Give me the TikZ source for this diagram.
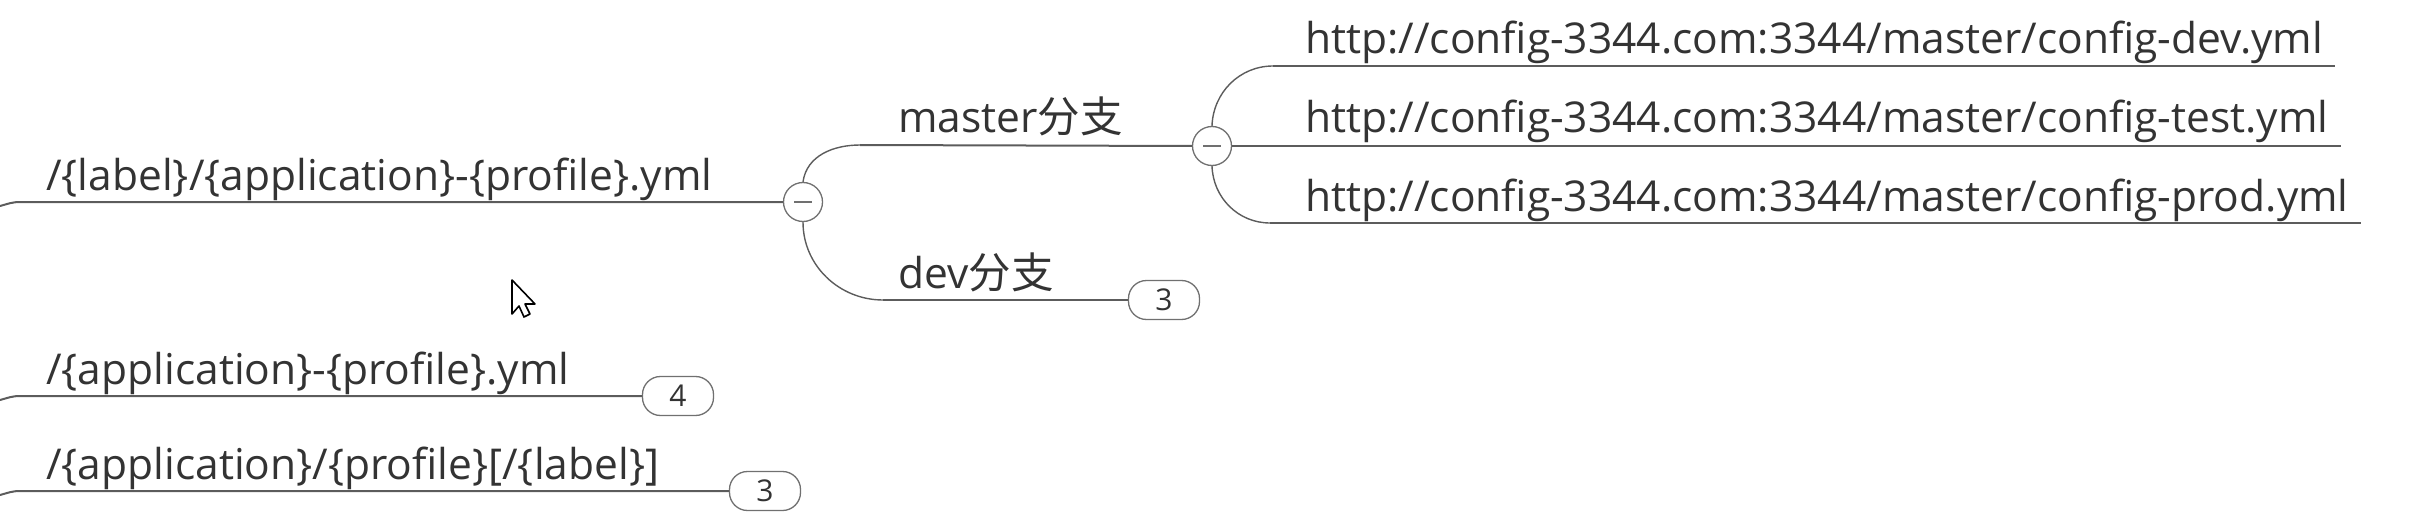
\documentclass[tikz,border=0pt]{standalone}
\usepackage{fontspec}
\setmainfont{Open Sans}
\newfontfamily\cjk{Noto Sans CJK SC}
\usetikzlibrary{positioning}
\definecolor{edge}{HTML}{5C5C5C}
\definecolor{ink}{HTML}{333333}
\definecolor{rim}{HTML}{707070}

\begin{document}
\begin{tikzpicture}[x=1pt, y=-1pt,
    topic/.style={inner sep=0pt, anchor=base west, text=ink,
                  font=\fontsize{42.5}{50}\selectfont},
    fold/.style={circle, draw=rim, fill=white, line width=1.3pt,
                 minimum size=39pt, inner sep=0pt,
                 path picture={\draw[rim, line width=2.5pt]
                   ([xshift=-9pt]path picture bounding box.center) --
                   ([xshift=9pt]path picture bounding box.center);}},
    count/.style={rectangle, rounded corners=18pt, draw=rim, fill=white,
                  line width=1.3pt, minimum width=71pt, minimum height=39pt,
                  inner sep=0pt, text=ink, font=\fontsize{30}{36}\selectfont},
    under/.style={draw=edge, line width=2pt},
    curve/.style={draw=edge, line width=1.4pt},
]
\useasboundingbox (0,0) rectangle (2428,516);

% Left column topics
\node[topic] (lbl)     at (46,190) {/\{label\}/\{application\}-\{profile\}.yml};
\node[topic] (app)     at (46,384) {/\{application\}-\{profile\}.yml};
\node[topic] (appprof) at (46,479) {/\{application\}/\{profile\}[/\{label\}]};

% Branches
\node[topic] (master) at (898,133) {master{\cjk 分支}};
\node[topic] (dev)    at (898,288) {dev{\cjk 分支}};

% Leaf URLs
\node[topic] (cdev)  at (1305,54)  {http://config-3344.com:3344/master/config-dev.yml};
\node[topic] (ctest) at (1305,133) {http://config-3344.com:3344/master/config-test.yml};
\node[topic] (cprod) at (1305,211) {http://config-3344.com:3344/master/config-prod.yml};

% Fold markers and counters
\node[fold]  (foldl)   at (803,202)  {};
\node[fold]  (foldm)   at (1212,146) {};
\node[count] (cntdev)  at (1164,300) {3};
\node[count] (cntapp)  at (678,396)  {4};
\node[count] (cntprof) at (765,491)  {3};

% Bend points
\coordinate (inl)  at (0,206);
\coordinate (inap) at (0,400);
\coordinate (inpr) at (0,495);
\coordinate (tm)   at (860,145);
\coordinate (td)   at (883,300);
\coordinate (tdev) at (1273,66);
\coordinate (tprd) at (1270,223);

\draw[under] (inl)  to[out=15,in=180] (20,202) -- (foldl.west);
\draw[under] (inap) to[out=15,in=180] (20,396) -- (cntapp.west);
\draw[under] (inpr) to[out=15,in=180] (20,491) -- (cntprof.west);

\draw[curve] (foldl.north) to[out=82,in=180] (tm);
\draw[under] (tm) -- (foldm.west);
\draw[curve] (foldl.south) to[out=-90,in=180] (td);
\draw[under] (td) -- (cntdev.west);

\draw[curve] (foldm.north) to[out=88,in=180] (tdev);
\draw[under] (tdev) -- ([xshift=12pt]tdev -| cdev.east);
\draw[under] (foldm.east) -- ([xshift=12pt]foldm.east -| ctest.east);
\draw[curve] (foldm.south) to[out=-88,in=180] (tprd);
\draw[under] (tprd) -- ([xshift=12pt]tprd -| cprod.east);

% Pointer
\draw[black, line width=1.6pt, fill=white, line join=round]
  (512,280) -- (512,314) -- (519,306) -- (524,317) -- (530,314)
  -- (525,304) -- (535,304) -- cycle;

\end{tikzpicture}
\end{document}
